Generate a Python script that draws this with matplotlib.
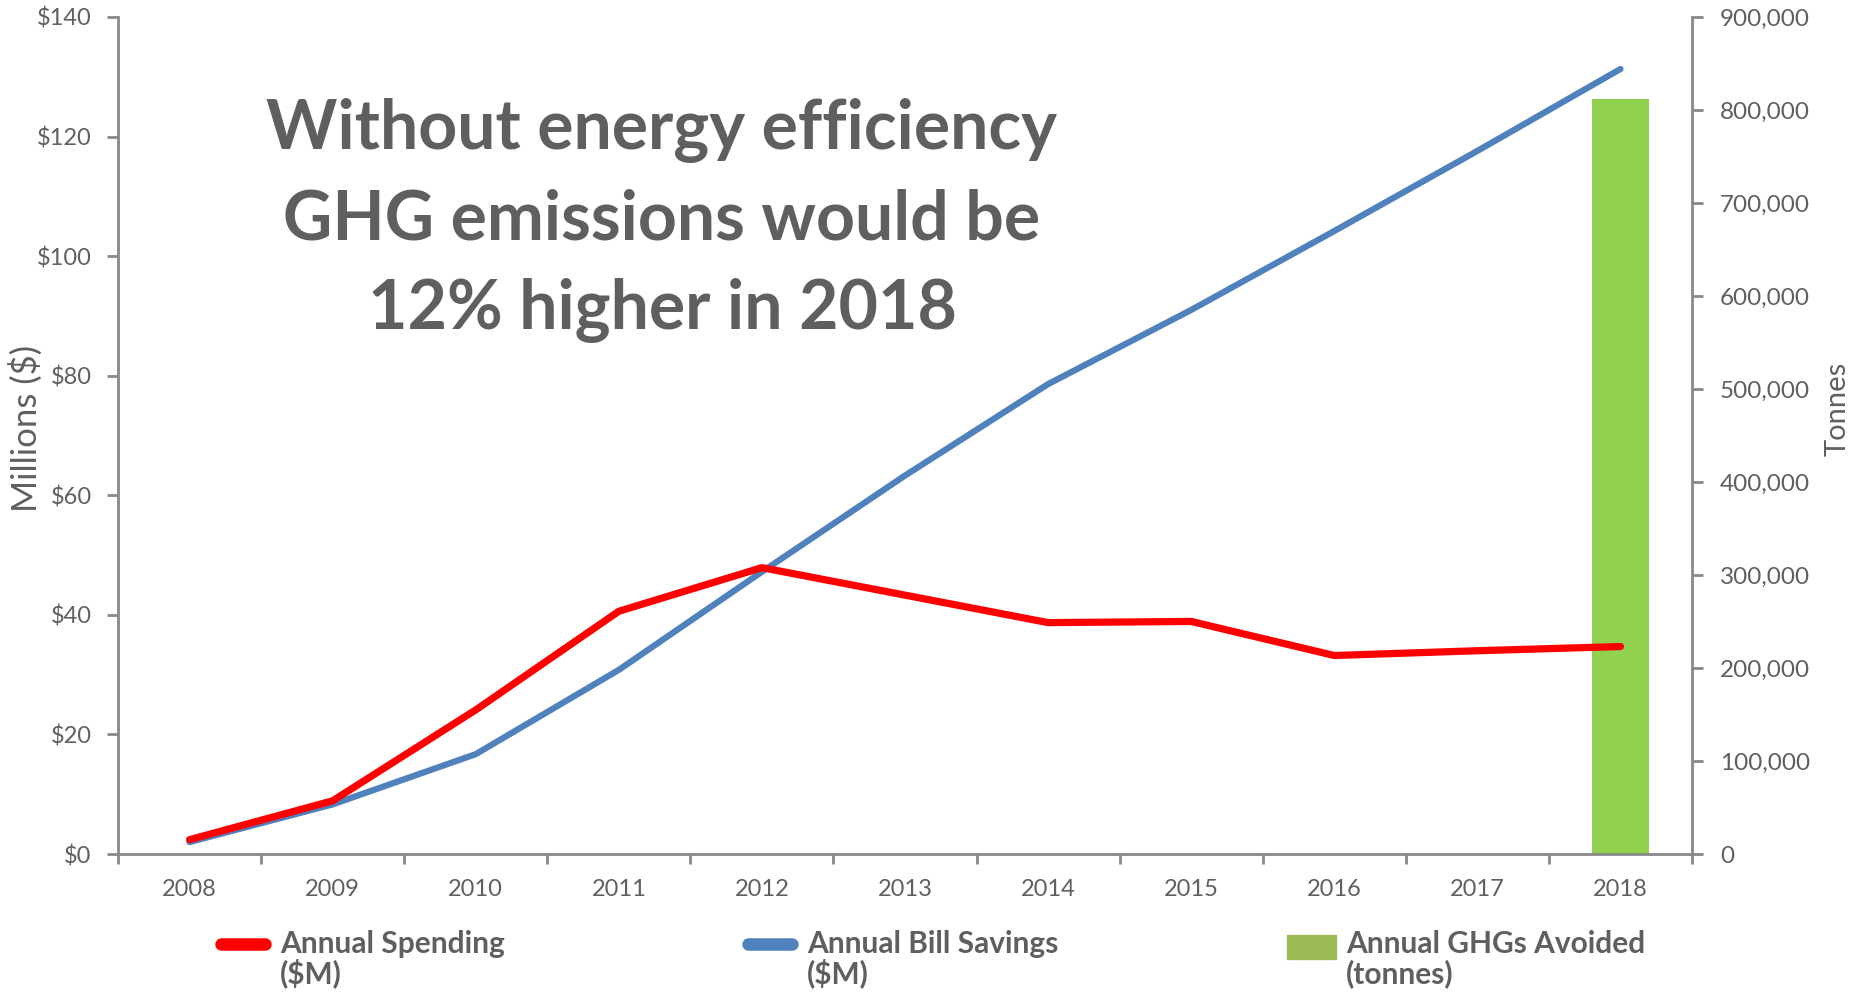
import matplotlib
matplotlib.use("Agg")
import matplotlib.pyplot as plt
from matplotlib.lines import Line2D
from matplotlib.patches import Rectangle
from matplotlib.ticker import FuncFormatter

# Datos del gráfico
anios = ['2008', '2009', '2010', '2011', '2012', '2013', '2014', '2015', '2016', '2017', '2018']
gasto_anual = [2.4, 8.9, 24.1, 40.6, 47.9, 43.3, 38.7, 38.9, 33.2, 34.0, 34.7]        # $M
ahorro_factura = [2.0, 8.3, 16.7, 30.8, 47.2, 63.3, 78.6, 91.0, 104.2, 117.6, 131.3]  # $M
ghg_evitados = [0, 0, 0, 0, 0, 0, 0, 0, 0, 0, 812000]                                  # toneladas

mensaje = ['Without energy efficiency', 'GHG emissions would be', '12% higher in 2018']
leyenda = [('Annual Spending', '($M)'), ('Annual Bill Savings', '($M)'), ('Annual GHGs Avoided', '(tonnes)')]

# Colores
ROJO = '#FF0000'
AZUL = '#4F81BD'
VERDE = '#92D050'
VERDE_LEY = '#9BBB59'
GRIS_EJE = '#898989'
GRIS_TXT = '#5F5F5F'

plt.rcParams['font.family'] = ['Lato', 'DejaVu Sans']

W, H = 1861, 996
fig = plt.figure(figsize=(W / 100, H / 100), dpi=100)
ax = fig.add_axes([118 / W, 142 / H, (1692 - 118) / W, (854 - 17) / H])
ax2 = ax.twinx()

x = list(range(len(anios)))

# Barras en eje derecho
ax2.bar(x, ghg_evitados, width=0.4, color=VERDE, zorder=1)
ax2.set_ylim(0, 900000)

# Líneas en eje izquierdo (encima de las barras)
ax.set_zorder(ax2.get_zorder() + 1)
ax.patch.set_visible(False)
ax.plot(x, ahorro_factura, color=AZUL, linewidth=4.5, solid_capstyle='round', solid_joinstyle='round')
ax.plot(x, gasto_anual, color=ROJO, linewidth=5.2, solid_capstyle='round', solid_joinstyle='round')
ax.set_ylim(0, 140)
ax.set_xlim(-0.5, len(anios) - 0.5)

# Ejes y ticks
for a in (ax, ax2):
    for s in a.spines.values():
        s.set_visible(False)
ax.spines['left'].set_visible(True)
ax.spines['bottom'].set_visible(True)
ax2.spines['right'].set_visible(True)
for s in (ax.spines['left'], ax.spines['bottom'], ax2.spines['right']):
    s.set_color(GRIS_EJE)
    s.set_linewidth(2)

ax.set_yticks(range(0, 141, 20))
ax.yaxis.set_major_formatter(FuncFormatter(lambda v, p: f'${v:.0f}'))
ax.tick_params(axis='y', length=8, width=2, color=GRIS_EJE, labelcolor=GRIS_TXT, labelsize=17, pad=11)

ax2.set_yticks(range(0, 900001, 100000))
ax2.yaxis.set_major_formatter(FuncFormatter(lambda v, p: f'{v:,.0f}'))
ax2.tick_params(axis='y', length=8, width=2, color=GRIS_EJE, labelcolor=GRIS_TXT, labelsize=17.5, pad=12)

ax.set_xticks(x)
ax.set_xticklabels(anios)
ax.set_xticks([i - 0.5 for i in range(len(anios) + 1)], minor=True)
ax.tick_params(axis='x', which='major', length=0, labelcolor=GRIS_TXT, labelsize=17, pad=18)
ax.tick_params(axis='x', which='minor', length=7, width=2, color=GRIS_EJE)

ax.set_ylabel('Millions ($)', fontsize=25, color=GRIS_TXT)
ax.yaxis.set_label_coords(-0.048, 0.508)
ax2.set_ylabel('Tonnes', fontsize=21, color=GRIS_TXT)
ax2.yaxis.set_label_coords(1.0845, 0.532)

# Mensaje principal
for linea, yb in zip(mensaje, [0.842, 0.7336, 0.627]):
    ax.text(0.3456, yb, linea, transform=ax.transAxes, ha='center', va='baseline',
            fontsize=49, fontweight='bold', color=GRIS_TXT)

# Leyenda manual (entradas alineadas con la primera línea)
x_handles = [215, 742, 1287]
for (l1, l2), xh, tipo in zip(leyenda, x_handles, ['r', 'b', 'g']):
    yc = 1 - 944 / H
    if tipo == 'g':
        fig.add_artist(Rectangle((xh / W, 1 - 959 / H), 49 / W, 24 / H, color=VERDE_LEY,
                                 transform=fig.transFigure))
        xt = (xh + 59) / W
    else:
        fig.add_artist(Line2D([xh / W + 0.003, (xh + 56) / W - 0.003], [yc, yc],
                              color=ROJO if tipo == 'r' else AZUL, linewidth=9,
                              solid_capstyle='round', transform=fig.transFigure))
        xt = (xh + 65) / W
    fig.text(xt, 1 - 953 / H, l1, fontsize=21.5, fontweight='bold', color=GRIS_TXT, va='baseline')
    fig.text(xt, 1 - 983 / H, l2, fontsize=21.5, fontweight='bold', color=GRIS_TXT, va='baseline')

fig.savefig('out.png', dpi=100, facecolor='white')
